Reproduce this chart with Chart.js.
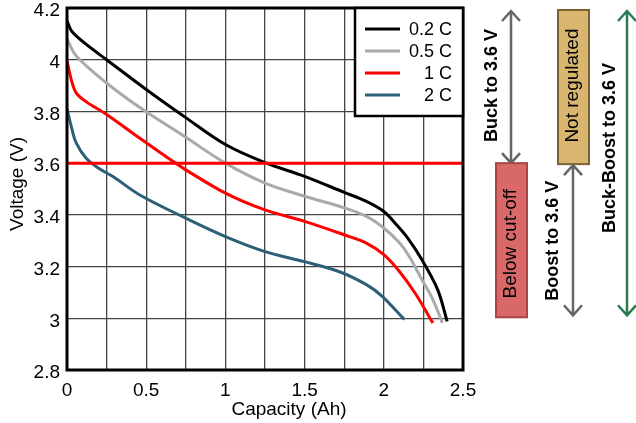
<!DOCTYPE html>
<html>
<head>
<meta charset="utf-8">
<script src="https://cdn.jsdelivr.net/npm/chart.js@4"></script>
<style>
  html, body { margin: 0; padding: 0; background: #fff; }
  #wrap { width: 636px; height: 423px; }
</style>
</head>
<body>
<div id="wrap"><canvas id="dischargeChart" width="636" height="423"></canvas></div>
<script>
// --- DATA ---
const cap02 = [0, 0.03, 0.12, 0.25, 0.5, 0.75, 1.0, 1.25, 1.5, 1.75, 1.89, 2.0, 2.08, 2.15, 2.24, 2.34, 2.40];
const volt02 = [4.15, 4.11, 4.06, 4.0, 3.885, 3.776, 3.672, 3.602, 3.549, 3.487, 3.452, 3.413, 3.362, 3.311, 3.227, 3.111, 2.988];

const cap05 = [0, 0.06, 0.25, 0.46, 0.75, 1.0, 1.25, 1.5, 1.75, 1.89, 2.0, 2.10, 2.16, 2.24, 2.31, 2.37];
const volt05 = [4.08, 4.013, 3.91, 3.815, 3.70, 3.60, 3.523, 3.472, 3.427, 3.394, 3.349, 3.291, 3.24, 3.15, 3.072, 2.982];

const cap1 = [0, 0.027, 0.058, 0.12, 0.25, 0.46, 0.67, 0.75, 1.0, 1.25, 1.5, 1.75, 1.89, 2.0, 2.10, 2.20, 2.31];
const volt1 = [3.995, 3.923, 3.872, 3.838, 3.788, 3.696, 3.606, 3.574, 3.484, 3.419, 3.375, 3.323, 3.291, 3.246, 3.18, 3.095, 2.982];

const cap2 = [0, 0.027, 0.058, 0.12, 0.2, 0.29, 0.46, 0.75, 1.0, 1.25, 1.5, 1.72, 1.89, 1.99, 2.13];
const volt2 = [3.81, 3.742, 3.678, 3.62, 3.58, 3.548, 3.477, 3.387, 3.316, 3.258, 3.219, 3.18, 3.13, 3.085, 2.995];

const seriesLabels = ["0.2 C", "0.5 C", "1 C", "2 C"];
const seriesColors = ["#000000", "#aaaaaa", "#ff0000", "#2d5f78"];

// regulation levels (V)
const limitCap = [0, 2.5];
const limitVolt = [3.6, 3.6];
const rangeTop = 4.2;
const cutOff = 3.0;

const xMin = 0, xMax = 2.5, xStep = 0.25;
const yMin = 2.8, yMax = 4.2, yStep = 0.2;
const xTitle = "Capacity (Ah)";
const yTitle = "Voltage (V)";

const FONT = "'Liberation Sans', Arial, sans-serif";

function toPoints(xs, ys) {
  return xs.map((x, i) => ({ x: x, y: ys[i] }));
}

// --- plot frame ---
const framePlugin = {
  id: "frame",
  afterDatasetsDraw(chart) {
    const { ctx, chartArea: a } = chart;
    ctx.save();
    ctx.strokeStyle = "#000";
    ctx.lineWidth = 3;
    ctx.strokeRect(a.left, a.top, a.right - a.left, a.bottom - a.top);
    ctx.restore();
  },
};

// --- boxed legend in the top right corner ---
const boxLegendPlugin = {
  id: "boxLegend",
  afterDraw(chart) {
    const { ctx, chartArea: a } = chart;
    const items = chart.data.datasets.filter((d) => d.label);
    const w = 108, h = 108, rowH = 22;
    const x0 = a.right - w, y0 = a.top;
    ctx.save();
    ctx.fillStyle = "#fff";
    ctx.fillRect(x0, y0, w, h);
    ctx.strokeStyle = "#000";
    ctx.lineWidth = 2.5;
    ctx.strokeRect(x0, y0, w, h);
    ctx.font = "18px " + FONT;
    ctx.textAlign = "right";
    ctx.textBaseline = "middle";
    items.forEach((d, i) => {
      const y = y0 + 21 + i * rowH;
      ctx.strokeStyle = d.borderColor;
      ctx.lineWidth = 3;
      ctx.beginPath();
      ctx.moveTo(x0 + 10, y);
      ctx.lineTo(x0 + 45, y);
      ctx.stroke();
      ctx.fillStyle = "#000";
      ctx.fillText(d.label, a.right - 11, y + 1);
    });
    ctx.restore();
  },
};

// --- text helpers ---
function vText(ctx, text, x, y, bold) {
  ctx.save();
  ctx.translate(x, y);
  ctx.rotate(-Math.PI / 2);
  ctx.font = (bold ? "bold 18px " : "19px ") + FONT;
  ctx.textAlign = "center";
  ctx.textBaseline = "middle";
  ctx.fillStyle = "#000";
  ctx.fillText(text, 0, 0);
  ctx.restore();
}

// axis titles (the originals sit a bit off-centre)
const titlesPlugin = {
  id: "titles",
  afterDraw(chart) {
    const { ctx } = chart;
    ctx.save();
    ctx.font = "19px " + FONT;
    ctx.fillStyle = "#000";
    ctx.textAlign = "center";
    ctx.textBaseline = "middle";
    ctx.fillText(xTitle, 289, 410);
    ctx.restore();
    vText(ctx, yTitle, 18, 184, false);
  },
};

// --- regulation ranges on the right ---
function dArrow(ctx, x, y1, y2, color) {
  ctx.save();
  ctx.strokeStyle = color;
  ctx.lineWidth = 2.5;
  ctx.beginPath();
  ctx.moveTo(x, y1);
  ctx.lineTo(x, y2);
  ctx.moveTo(x - 9, y1 + 10);
  ctx.lineTo(x, y1);
  ctx.lineTo(x + 9, y1 + 10);
  ctx.moveTo(x - 9, y2 - 10);
  ctx.lineTo(x, y2);
  ctx.lineTo(x + 9, y2 - 10);
  ctx.stroke();
  ctx.restore();
}

function box(ctx, x, y1, y2, w, fill, edge) {
  ctx.save();
  ctx.fillStyle = fill;
  ctx.strokeStyle = edge;
  ctx.lineWidth = 2;
  ctx.fillRect(x, y1, w, y2 - y1);
  ctx.strokeRect(x, y1, w, y2 - y1);
  ctx.restore();
}

const rangesPlugin = {
  id: "ranges",
  afterDraw(chart) {
    const { ctx } = chart;
    const ys = chart.scales.y;
    const top = ys.getPixelForValue(rangeTop);
    const mid = ys.getPixelForValue(limitVolt[0]);
    const low = ys.getPixelForValue(cutOff);

    dArrow(ctx, 511, top + 3, mid, "#666");
    vText(ctx, "Buck to 3.6 V", 492, (top + mid) / 2, true);

    box(ctx, 496, mid, low - 1, 31, "#d96868", "#a84646");
    vText(ctx, "Below cut-off", 511, (mid + low) / 2 + 3, false);

    box(ctx, 558, top + 2, mid + 1, 31, "#d8b66f", "#7c6232");
    vText(ctx, "Not regulated", 573, (top + mid) / 2, false);

    dArrow(ctx, 573, mid + 2, low - 3, "#666");
    vText(ctx, "Boost to 3.6 V", 553, (mid + low) / 2, true);

    dArrow(ctx, 627, top + 3, low - 3, "#2b7a52");
    vText(ctx, "Buck-Boost to 3.6 V", 610, 148, true);
  },
};

const curveSets = [
  [cap02, volt02],
  [cap05, volt05],
  [cap1, volt1],
  [cap2, volt2],
];

const datasets = curveSets.map((s, i) => ({
  label: seriesLabels[i],
  data: toPoints(s[0], s[1]),
  borderColor: seriesColors[i],
  backgroundColor: seriesColors[i],
  borderWidth: 3,
  pointRadius: 0,
  tension: 0.35,
  order: 2,
}));

datasets.push({
  label: "",
  data: toPoints(limitCap, limitVolt),
  borderColor: "#ff0000",
  borderWidth: 3,
  pointRadius: 0,
  order: 1,
});

const fmt = (v) => String(Number(v.toFixed(2)));

new Chart(document.getElementById("dischargeChart"), {
  type: "line",
  data: { datasets: datasets },
  plugins: [framePlugin, boxLegendPlugin, rangesPlugin, titlesPlugin],
  options: {
    responsive: false,
    animation: false,
    layout: { padding: { left: 0, right: 173, top: 8, bottom: 0 } },
    plugins: { legend: { display: false }, tooltip: { enabled: false } },
    scales: {
      x: {
        type: "linear",
        min: xMin,
        max: xMax,
        afterFit: (s) => { s.height = 53; },
        grid: { color: "#444", lineWidth: 1.3, drawTicks: false },
        border: { display: false },
        ticks: {
          stepSize: xStep,
          padding: 9,
          color: "#000",
          font: { family: FONT, size: 19 },
          maxRotation: 0,
          autoSkip: false,
          callback: (v) => (Math.abs(v / 0.5 - Math.round(v / 0.5)) < 1e-6 ? fmt(v) : ""),
        },
      },
      y: {
        type: "linear",
        min: yMin,
        max: yMax,
        afterFit: (s) => {
          s.width = 67;
          s.paddingTop = 0;
          s.paddingBottom = 0;
        },
        grid: { color: "#444", lineWidth: 1.3, drawTicks: false },
        border: { display: false },
        ticks: {
          stepSize: yStep,
          padding: 7,
          labelOffset: 3,
          color: "#000",
          font: { family: FONT, size: 19 },
          callback: (v) => fmt(v),
        },
      },
    },
  },
});
</script>
</body>
</html>
